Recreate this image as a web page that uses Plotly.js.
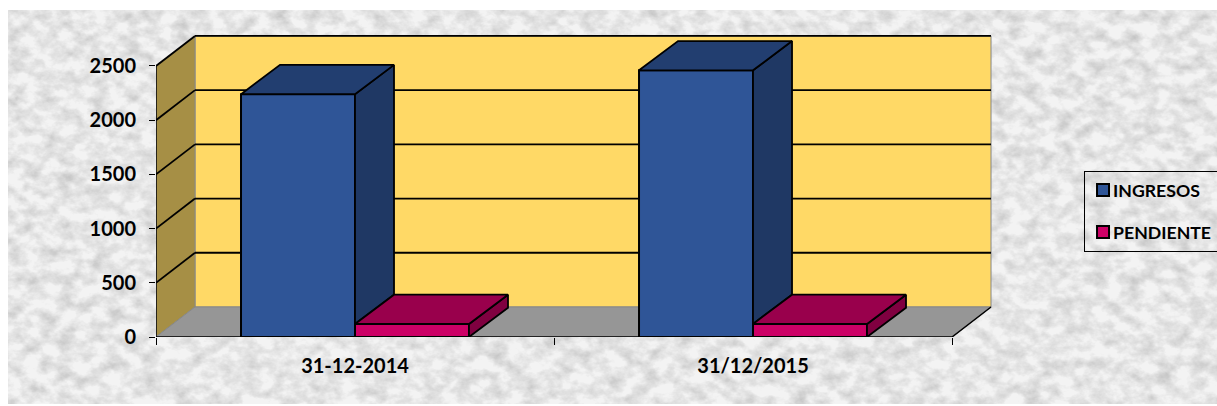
<!DOCTYPE html>
<html><head><meta charset="utf-8">
<script src="https://cdn.plot.ly/plotly-3.0.1.min.js"></script>
<style>
html,body{margin:0;padding:0;background:#fff;overflow:hidden}
#wrap{position:relative;width:1217px;height:406px}
#bg{position:absolute;left:8px;top:10px;width:1209px;height:394px}
#chart{position:absolute;left:0;top:0}
</style></head><body>
<div id="wrap">
<svg id="bg" xmlns="http://www.w3.org/2000/svg">
<filter id="tex" x="0" y="0" width="100%" height="100%">
<feTurbulence type="fractalNoise" baseFrequency="0.06 0.08" numOctaves="4" seed="7"/>
<feColorMatrix type="matrix" values="0 0 0 0 0  0 0 0 0 0  0 0 0 0 0  1.6 0 0 0 -0.55"/>
</filter>
<rect width="100%" height="100%" fill="#f3f3f3"/>
<rect width="100%" height="100%" fill="#c4c4c4" filter="url(#tex)" opacity="0.2"/>
</svg>
<div id="chart"></div>
</div>
<script>
const categories = ['31-12-2014', '31/12/2015'];
const ingresos = [2240, 2460];
const pendiente = [120, 120];
const yTicks = [0, 500, 1000, 1500, 2000, 2500];
const catPos = [0.5, 1.5];
const xEdges = [0, 1, 2];

const barW = 0.2864, depthX = 0.098, depthY = 277, barDepthY = 270;
const col = {
  wall:'#FFD966', side:'#A68F45', floor:'#969696',
  blue:'#2F5597', blueTop:'#223E70', blueSide:'#1F3864',
  pink:'#CC0066', pinkTop:'#99004C', pinkSide:'#800040'
};

function face(xs, ys, fill){
  return {type:'scatter', mode:'lines', x:xs, y:ys, fill:'toself', fillcolor:fill,
    line:{color:'#000', width:1.8}, showlegend:false, hoverinfo:'skip', cliponaxis:false};
}
function box3d(x0, x1, v, base, topCol, sideCol){
  return [
    face([x1,x1+depthX,x1+depthX,x1,x1],[base,base+barDepthY,v+barDepthY,v,base],sideCol),
    face([x0,x1,x1+depthX,x0+depthX,x0],[v,v,v+barDepthY,v+barDepthY,v],topCol)
  ];
}
const faces = [];
catPos.forEach((c,i)=>{
  faces.push(...box3d(c-barW,c,ingresos[i],pendiente[i],col.blueTop,col.blueSide));
});
catPos.forEach((c,i)=>{
  faces.push(...box3d(c,c+barW,pendiente[i],0,col.pinkTop,col.pinkSide));
});

const bars = [
  {type:'bar', name:'INGRESOS', x:catPos, y:ingresos, width:barW, offset:-barW, legendgroup:'a',
   marker:{color:col.blue, line:{color:'#000', width:2}}, cliponaxis:false, hoverinfo:'y'},
  {type:'bar', name:'PENDIENTE', x:catPos, y:pendiente, width:barW, offset:0, legendgroup:'b',
   marker:{color:col.pink, line:{color:'#000', width:2}}, cliponaxis:false, hoverinfo:'y'}
];
const axisLines = [
  {type:'scatter', mode:'lines', x:[0,0], y:[0,yTicks[5]], line:{color:'#000',width:1.5}, showlegend:false, hoverinfo:'skip', cliponaxis:false},
  {type:'scatter', mode:'lines', x:[0,2,2+depthX], y:[0,0,depthY], line:{color:'#000',width:1.5}, showlegend:false, hoverinfo:'skip', cliponaxis:false}
];

const shapes = [];
const yMax = yTicks[5];
shapes.push({type:'path', layer:'below', path:`M${depthX},${depthY}H${2+depthX}V${yMax+depthY}H${depthX}Z`, fillcolor:col.wall, line:{color:'#888',width:1}});
shapes.push({type:'path', layer:'below', path:`M0,0L${depthX},${depthY}V${yMax+depthY}L0,${yMax}Z`, fillcolor:col.side, line:{color:'#888',width:1}});
shapes.push({type:'path', layer:'below', path:`M0,0H2L${2+depthX},${depthY}H${depthX}Z`, fillcolor:col.floor, line:{color:'#888',width:1}});
yTicks.slice(1).forEach(v=>{
  shapes.push({type:'line', layer:'below', x0:0, y0:v, x1:depthX, y1:v+depthY, line:{color:'#000',width:1.8}});
  shapes.push({type:'line', layer:'below', x0:depthX, y0:v+depthY, x1:2+depthX, y1:v+depthY, line:{color:'#000',width:1.8}});
});

const layout = {
  width:1217, height:406, autosize:false,
  margin:{l:156, r:222, t:34, b:69, pad:0, autoexpand:false},
  paper_bgcolor:'rgba(0,0,0,0)', plot_bgcolor:'rgba(0,0,0,0)',
  barmode:'overlay', shapes:shapes,
  xaxis:{range:[0,2.108], tickmode:'array', tickvals:catPos, ticktext:categories, ticks:'', showgrid:false, zeroline:false,
    showline:false, tickfont:{family:'Lato, sans-serif', size:20, color:'#000', weight:700}, ticklabelstandoff:15,
    minor:{tickmode:'array', tickvals:xEdges, ticks:'outside', ticklen:7, tickwidth:1, tickcolor:'#000', showgrid:false}},
  yaxis:{range:[0,2795], tickmode:'array', tickvals:yTicks, ticks:'outside', ticklen:6, tickwidth:1, tickcolor:'#000',
    showgrid:false, zeroline:false, showline:false, tickfont:{family:'Lato, sans-serif', size:20, color:'#000', weight:700}, ticklabelstandoff:9},
  legend:{x:1.1061, xanchor:'left', y:0.5479, yanchor:'top', bgcolor:'rgba(0,0,0,0)', bordercolor:'#000', borderwidth:1,
    font:{family:'Lato, sans-serif', size:17.7, color:'#000', weight:700}, traceorder:'grouped', tracegroupgap:16, indentation:-12, itemclick:false, itemdoubleclick:false},
  showlegend:true
};
Plotly.newPlot('chart', [...bars, ...faces, ...axisLines], layout, {displayModeBar:false, staticPlot:true}).then(()=>{
  document.querySelectorAll('#chart .legend .legendsymbols').forEach(g=>g.setAttribute('transform','translate(10,0)'));
});
</script>
</body></html>
